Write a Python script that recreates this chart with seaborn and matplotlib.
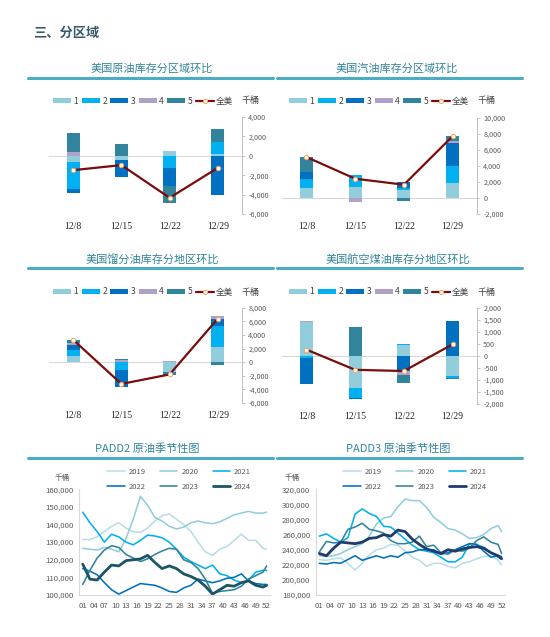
import matplotlib
matplotlib.use("Agg")
import matplotlib.pyplot as plt
import seaborn as sns
import numpy as np
import pandas as pd
from matplotlib.patches import Patch
from matplotlib.lines import Line2D
from matplotlib.ticker import FuncFormatter, MultipleLocator

# -----------------------------
# Data (千桶)
# -----------------------------
dates = ["12/8", "12/15", "12/22", "12/29"]
region_names = ["1", "2", "3", "4", "5"]

# weekly change by region, rows = region 1..5, cols = dates
crude_regions = [
    [-625, -480, 490, 170],
    [-2775, 0, -1250, 1260],
    [-410, -1700, -1900, -3990],
    [420, 0, 0, 0],
    [1910, 1220, -1670, 1320],
]
crude_total = [-1480, -960, -4330, -1240]

gasoline_regions = [
    [1300, 1400, 1000, 1900],
    [1000, 1400, 200, 2100],
    [900, 0, 800, 2900],
    [0, -500, 0, 200],
    [1900, 100, -400, 600],
]
gasoline_total = [5100, 2400, 1650, 7700]

distillate_regions = [
    [850, 0, -1500, 2300],
    [1000, -1200, 0, 3000],
    [650, -2500, 0, 1100],
    [300, 300, 100, 400],
    [500, 200, -400, -400],
]
distillate_total = [3300, -3200, -1800, 6400]

jet_regions = [
    [1400, -1320, 450, -820],
    [-100, -430, 50, -100],
    [-1050, -30, -650, 1450],
    [50, 0, -150, 0],
    [0, 1200, -320, -40],
]
jet_total = [260, -580, -630, 480]

# seasonal crude stocks, sampled every two weeks (千桶)
weeks = [1, 3, 5, 7, 9, 11, 13, 15, 17, 19, 21, 23, 25, 27, 29, 31, 33, 35,
         37, 39, 41, 43, 45, 47, 49, 51, 52]
years = ["2019", "2020", "2021", "2022", "2023", "2024"]

padd2 = {
    "2019": [131.5, 131.5, 133, 136, 139, 141, 138, 136, 135.5, 138, 142, 145, 146, 143,
             140, 136, 130, 124.5, 122.5, 126, 127.5, 131, 134.5, 131, 131, 126.5, 126],
    "2020": [126.5, 126, 125.5, 127, 126, 124.5, 132, 143, 156, 151, 144, 142, 139, 137.5,
             138.5, 141, 142, 141, 140.5, 141.5, 143.5, 145.5, 146.5, 147.5, 146.5, 146.5, 147],
    "2021": [147, 141, 136, 130, 134.5, 133, 130, 128.5, 131, 134, 133.5, 132.5, 130, 126,
             121.5, 119, 117, 115, 117, 112, 111, 108.5, 107, 108.5, 113, 114, 114],
    "2022": [115, 113.5, 111.5, 107, 103, 100.5, 102.5, 104.5, 106.5, 106, 105.5, 104, 102,
             101.5, 104, 105.5, 109, 108, 107, 108, 109.5, 110, 112, 108, 106.5, 106, 106],
    "2023": [106, 114, 121, 125.5, 128, 127, 123, 121, 119, 120.5, 123, 125, 126.5, 126,
             120, 118.5, 115, 109, 101, 102, 102.5, 103, 105, 109, 111, 113, 116.5],
    "2024": [117.5, 109, 108.5, 113, 117, 116.5, 119.5, 120, 120.5, 122.5, 118.5, 115, 116.5,
             115, 112, 110.5, 108.5, 105, 100.5, 103, 105.5, 105, 107, 108, 105.5, 104.5, 105.5],
}
padd3 = {
    "2019": [227, 226, 228, 229, 222, 213, 222, 233, 240, 242, 247, 246, 238, 230,
             226, 218, 222, 222, 218, 216, 222, 224, 228, 231, 232, 226, 220],
    "2020": [232, 231, 232, 235, 240, 244, 248, 258, 274, 282, 284, 297, 307, 305,
             305, 296, 283, 276, 268, 266, 261, 255, 256, 260, 268, 272, 264],
    "2021": [258, 261, 255, 250, 256, 287, 294, 288, 284, 271, 270, 262, 254, 246,
             240, 238, 236, 230, 224, 224, 230, 248, 247, 243, 236, 230, 228],
    "2022": [222, 221, 223, 222, 227, 232, 226, 229, 232, 229, 232, 230, 236, 237,
             240, 240, 240, 234, 236, 240, 244, 248, 247, 238, 230, 232, 231],
    "2023": [237, 251, 249, 250, 267, 270, 275, 267, 265, 262, 252, 248, 248, 250,
             258, 244, 246, 236, 234, 240, 238, 242, 252, 257, 250, 247, 235],
    "2024": [235, 232, 242, 250, 249, 248, 250, 255, 256, 260, 258, 266, 264, 254,
             247, 241, 238, 235, 240, 238, 241, 243, 244, 242, 236, 232, 228],
}

# -----------------------------
# Style
# -----------------------------
sns.set_style("white")
plt.rcParams["font.family"] = ["Noto Sans CJK SC", "DejaVu Sans"]
plt.rcParams["axes.unicode_minus"] = False

W, H = 550, 637
fig = plt.figure(figsize=(W / 100, H / 100), dpi=100)

bar_colors = ["#92CDDC", "#00B0F0", "#0070C0", "#B1A0C7", "#31849B"]
total_color = "#7B0C0C"
title_color = "#31859C"
rule_color = "#4BACC6"
tick_gray = "#595959"
axis_gray = "#BFBFBF"


def box(l, t, r, b):
    return [l / W, 1 - b / H, (r - l) / W, (b - t) / H]


def header(text, cx, cy, x0, x1):
    fig.text(cx / W, 1 - cy / H, text, ha="center", va="center",
             fontsize=8, color=title_color)
    fig.add_artist(Line2D([x0 / W, x1 / W], [1 - (cy + 9) / H, 1 - (cy + 9) / H],
                          color=rule_color, lw=2.2))


fmt = FuncFormatter(lambda v, p: f"{v:,.0f}")


def bar_panel(rect, regions, total, ylim, step, leg_x, leg_y):
    ax = fig.add_axes(rect)
    df = pd.DataFrame(regions, index=region_names, columns=dates).T
    x = np.arange(len(dates))
    pos_base = np.zeros(len(dates))
    neg_base = np.zeros(len(dates))
    for name, c in zip(region_names, bar_colors):
        v = df[name].values
        bottom = np.where(v >= 0, pos_base, neg_base)
        ax.bar(x, v, bottom=bottom, width=0.27, color=c, linewidth=0)
        pos_base = pos_base + np.clip(v, 0, None)
        neg_base = neg_base + np.clip(v, None, 0)
    sns.lineplot(x=x, y=total, ax=ax, color=total_color, lw=1.6, marker="o",
                 markersize=3.2, markerfacecolor="white", markeredgecolor="#F4A460",
                 markeredgewidth=0.7, zorder=5)
    ax.set_xlim(-0.5, len(dates) - 0.5)
    ax.set_ylim(*ylim)
    ax.yaxis.tick_right()
    ax.set_yticks(np.arange(ylim[0], ylim[1] + 1, step))
    ax.yaxis.set_major_formatter(fmt)
    ax.tick_params(axis="y", labelsize=5.2, colors=tick_gray, length=2.5,
                   width=0.6, pad=2, color=axis_gray)
    for s in ["left", "top"]:
        ax.spines[s].set_visible(False)
    ax.spines["right"].set_color(axis_gray)
    ax.spines["right"].set_linewidth(0.7)
    # category axis sits on the zero line
    ax.spines["bottom"].set_position(("data", 0))
    ax.spines["bottom"].set_color("#D9D9D9")
    ax.spines["bottom"].set_linewidth(0.8)
    ax.spines["bottom"].set_zorder(0)
    ax.set_xticks(np.arange(-0.5, len(dates) - 1, 1.0))
    ax.set_xticklabels([])
    ax.tick_params(axis="x", length=2.5, width=0.6, color="#D9D9D9", direction="out")
    sec = ax.secondary_xaxis(0)
    sec.set_xticks(x)
    sec.set_xticklabels(dates, fontfamily="Liberation Serif", fontsize=7)
    sec.tick_params(length=0, pad=6, colors="#262626")
    sec.spines["bottom"].set_visible(False)
    ax.set_xlabel("")
    ax.set_ylabel("")
    handles = [Patch(facecolor=c, edgecolor="none") for c in bar_colors]
    handles.append(Line2D([], [], color=total_color, lw=1.6, marker="o", markersize=3,
                          markerfacecolor="white", markeredgecolor="#F4A460",
                          markeredgewidth=0.7))
    labels = region_names + ["全美"]
    leg = ax.legend(handles, labels, loc="center left", ncol=6, frameon=False,
                    bbox_to_anchor=(leg_x / W, 1 - leg_y / H),
                    bbox_transform=fig.transFigure, fontsize=6.2,
                    handlelength=2.1, handleheight=0.55, handletextpad=0.3,
                    columnspacing=0.36, borderpad=0, borderaxespad=0)
    for t in leg.get_texts():
        t.set_color("#404040")
    return ax


def season_panel(rect, data, colors, xlim, ylim, step, leg_x, unit_x):
    ax = fig.add_axes(rect)
    for yr, c in zip(years, colors):
        sns.lineplot(x=weeks, y=np.array(data[yr]) * 1000, ax=ax, color=c,
                     lw=2.0 if yr == "2024" else 1.15, label=yr)
    ax.set_xlim(*xlim)
    ax.set_ylim(*ylim)
    ax.set_xticks(range(1, 53, 3))
    ax.set_xticklabels([f"{w:02d}" for w in range(1, 53, 3)])
    ax.xaxis.set_minor_locator(MultipleLocator(1))
    ax.set_yticks(np.arange(ylim[0], ylim[1] + 1, step))
    ax.yaxis.set_major_formatter(fmt)
    ax.tick_params(axis="both", labelsize=5.6, colors=tick_gray, color="#D9D9D9",
                   length=2, width=0.6, pad=2)
    ax.tick_params(axis="x", which="minor", length=1.5, width=0.5, color="#D9D9D9")
    ax.tick_params(axis="x", which="major", pad=3)
    for s in ["right", "top"]:
        ax.spines[s].set_visible(False)
    for s in ["left", "bottom"]:
        ax.spines[s].set_color("#D9D9D9")
        ax.spines[s].set_linewidth(0.8)
    ax.set_xlabel("")
    ax.set_ylabel("")
    h, l = ax.get_legend_handles_labels()
    order = [0, 3, 1, 4, 2, 5]
    leg = ax.legend([h[i] for i in order], [l[i] for i in order], loc="center left",
                    ncol=3, frameon=False,
                    bbox_to_anchor=(leg_x / W, 1 - 479.5 / H),
                    bbox_transform=fig.transFigure, fontsize=5.5,
                    handlelength=2.3, handletextpad=0.5, columnspacing=1.9,
                    labelspacing=0.95, borderpad=0, borderaxespad=0)
    for t in leg.get_texts():
        t.set_color(tick_gray)
    fig.text(unit_x / W, 1 - 478 / H, "千桶", fontsize=5.5, color=tick_gray,
             ha="center", va="center")
    return ax


# -----------------------------
# Page header and panel titles
# -----------------------------
fig.text(33 / W, 1 - 33 / H, "三、分区域", fontsize=9.5, color="#3A5A6A",
         ha="left", va="center", fontweight="bold")

header("美国原油库存分区域环比", 152, 69, 28, 273)
header("美国汽油库存分区域环比", 397, 69, 277, 522)
header("美国馏分油库存分地区环比", 152, 259, 28, 273)
header("美国航空煤油库存分地区环比", 398, 259, 277, 522)
header("PADD2 原油季节性图", 147, 449, 28, 273)
header("PADD3 原油季节性图", 398, 449, 277, 522)

# -----------------------------
# Bar panels
# -----------------------------
bar_panel(box(49, 117, 242, 214), crude_regions, crude_total, (-6000, 4000), 2000, 53, 101)
bar_panel(box(282, 117.7, 477, 214), gasoline_regions, gasoline_total, (-2000, 10000), 2000, 289, 101)
bar_panel(box(49, 307.7, 242, 403), distillate_regions, distillate_total, (-6000, 8000), 2000, 53, 292)
bar_panel(box(282, 307.7, 477, 404), jet_regions, jet_total, (-2000, 2000), 500, 289, 292)

for lx, ly in [(251, 101), (487, 101), (251, 292), (487, 292)]:
    fig.text(lx / W, 1 - ly / H, "千桶", fontsize=6.5, color="#404040",
             ha="center", va="center")

# -----------------------------
# Seasonal panels
# -----------------------------
season_colors2 = ["#B7DEE8", "#92CDDC", "#00B0F0", "#0070C0", "#31849B", "#1B5566"]
season_colors3 = ["#B7DEE8", "#92CDDC", "#00B0F0", "#0070C0", "#31849B", "#1F3C6E"]
season_panel(box(79.3, 489.3, 270.2, 595), padd2, season_colors2, (0.05, 53),
             (100000, 160000), 10000, 107, 62)
season_panel(box(316, 489.3, 505.2, 595), padd3, season_colors3, (0.077, 53),
             (180000, 320000), 20000, 343, 292)

plt.savefig("out.png", dpi=100)
plt.close()
